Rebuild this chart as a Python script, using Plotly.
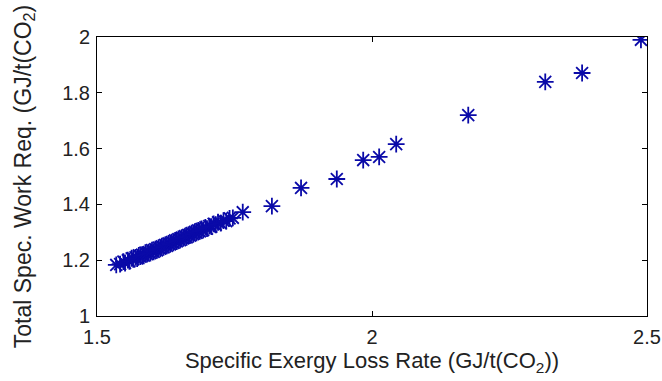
import plotly.graph_objects as go

# Specific exergy loss rate (GJ/t(CO2))
exergy_loss = [
    1.535, 1.542, 1.548, 1.551, 1.556, 1.559, 1.563, 1.566, 1.570, 1.573,
    1.576, 1.579, 1.582, 1.585, 1.588, 1.591, 1.594, 1.597, 1.600, 1.603,
    1.606, 1.609, 1.612, 1.615, 1.618, 1.621, 1.624, 1.627, 1.630, 1.633,
    1.636, 1.639, 1.642, 1.645, 1.648, 1.651, 1.654, 1.657, 1.660, 1.663,
    1.666, 1.669, 1.672, 1.675, 1.678, 1.681, 1.684, 1.687, 1.690, 1.693,
    1.697, 1.700, 1.704, 1.708, 1.712, 1.716, 1.720, 1.725, 1.730, 1.735,
    1.741, 1.747, 1.765,
    1.818, 1.871, 1.936, 1.984, 2.013, 2.044, 2.175, 2.315, 2.382, 2.489,
]
# Total specific work requirement (GJ/t(CO2))
work_req = [
    1.183, 1.186, 1.195, 1.190, 1.200, 1.196, 1.207, 1.203, 1.210, 1.206,
    1.217, 1.213, 1.220, 1.216, 1.227, 1.222, 1.229, 1.225, 1.236, 1.230,
    1.240, 1.235, 1.245, 1.241, 1.250, 1.246, 1.255, 1.251, 1.260, 1.257,
    1.265, 1.262, 1.271, 1.267, 1.276, 1.272, 1.281, 1.278, 1.286, 1.282,
    1.291, 1.288, 1.297, 1.293, 1.302, 1.298, 1.307, 1.303, 1.312, 1.308,
    1.318, 1.313, 1.322, 1.320, 1.330, 1.327, 1.336, 1.333, 1.342, 1.340,
    1.350, 1.352, 1.372,
    1.394, 1.459, 1.491, 1.559, 1.570, 1.616, 1.720, 1.839, 1.871, 1.990,
]

x_ticks = [1.5, 2, 2.5]
x_tick_text = ["1.5", "2", "2.5"]
y_ticks = [1, 1.2, 1.4, 1.6, 1.8, 2]
y_tick_text = ["1", "1.2", "1.4", "1.6", "1.8", "2"]

FONT = "Liberation Sans, Arial, sans-serif"

fig = go.Figure()
fig.add_trace(go.Scatter(
    x=exergy_loss, y=work_req, mode="markers",
    marker=dict(symbol="asterisk-open", size=14,
                line=dict(color="#0a0aa8", width=1.8), color="#0a0aa8"),
    showlegend=False,
))

axis_common = dict(
    showgrid=False, zeroline=False, showline=True, linecolor="black",
    linewidth=1, mirror="allticks", ticks="inside", ticklen=5,
    tickcolor="black", tickwidth=1, automargin=False,
    tickfont=dict(family=FONT, size=20, color="#222222"),
)

fig.update_layout(
    width=662, height=381,
    margin=dict(l=97, r=15, t=37, b=65),
    paper_bgcolor="white", plot_bgcolor="white",
    font=dict(family=FONT, color="#222222"),
    xaxis=dict(range=[1.5, 2.5], tickvals=x_ticks, ticktext=x_tick_text,
               ticklabelstandoff=3,
               title=dict(text="Specific Exergy Loss Rate (GJ/t(CO<sub>2</sub>))",
                          font=dict(family=FONT, size=22), standoff=5),
               **axis_common),
    yaxis=dict(range=[1, 2], tickvals=y_ticks, ticktext=y_tick_text,
               ticklabelstandoff=2,
               title=dict(text="Total Spec. Work Req. (GJ/t(CO<sub>2</sub>)",
                          font=dict(family=FONT, size=23), standoff=24),
               **axis_common),
)

fig.write_html("out.html")
